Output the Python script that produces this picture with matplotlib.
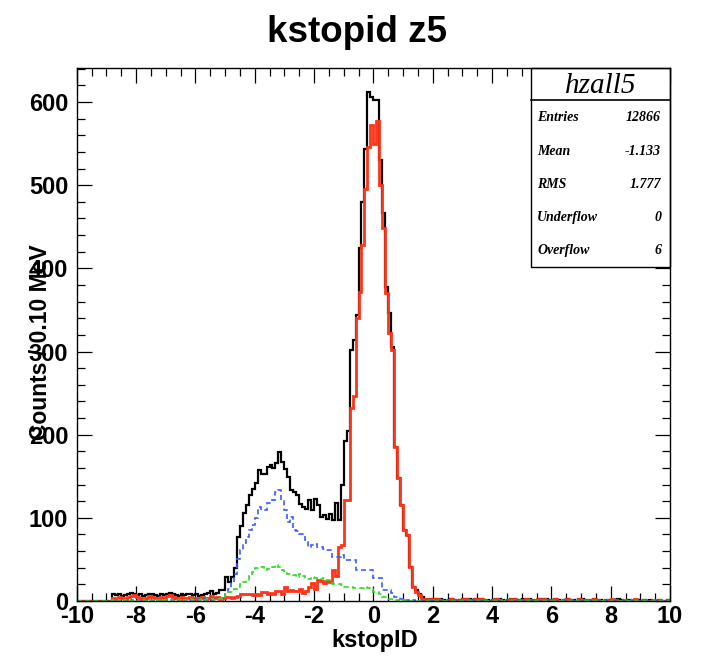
import numpy as np
import matplotlib.pyplot as plt
from matplotlib.patches import Rectangle

plt.rcParams['font.family'] = ['Liberation Sans', 'DejaVu Sans']
plt.rcParams['font.weight'] = 'bold'
plt.rcParams['axes.unicode_minus'] = False

# histogram binning: 200 bins of 0.10 between -10 and 10
x_min, x_max, n_bins = -10.0, 10.0, 200

# counts per bin
# left tail, bins 12..47 (x = -8.8 .. -5.2)
black_left = [8, 7, 9, 6, 7, 8, 10, 9, 7, 8, 6, 7, 9, 8, 7, 6, 8, 7, 9, 10,
              8, 7, 6, 8, 7, 9, 8, 7, 8, 6, 7, 9, 10, 12, 9, 10]
red_left = [4, 3, 5, 4, 3, 5, 6, 7, 5, 4, 3, 4, 6, 5, 4, 3, 5, 4, 6, 7,
            5, 4, 3, 5, 4, 4, 5, 4, 3, 4, 5, 3, 4, 6, 4, 5]
blue_left = [0, 1, 0, 1, 1, 0, 1, 0, 1, 1, 0, 1, 1, 0, 1, 0, 1, 1, 0, 1,
             1, 0, 1, 2, 1, 0, 1, 1, 2, 1, 1, 2, 1, 1, 2, 2]
green_left = [1, 0, 1, 0, 1, 1, 0, 1, 0, 1, 1, 0, 1, 1, 0, 1, 0, 1, 1, 1,
              0, 1, 1, 0, 1, 1, 2, 1, 1, 1, 2, 1, 2, 2, 1, 2]

# main region, bins 48..116 (x = -5.2 .. 1.7)
black_main = [13, 13, 29, 23, 29, 40, 77, 90, 106, 115,
              127, 135, 142, 157, 153, 153, 161, 163, 160, 166,
              179, 167, 159, 149, 133, 131, 127, 117, 113, 111,
              121, 109, 123, 115, 101, 103, 99, 105, 97, 118,
              97, 139, 193, 205, 302, 314, 344, 424, 480, 544,
              612, 606, 603, 603, 530, 466, 378, 346, 305, 185,
              148, 115, 85, 79, 41, 17, 13, 9, 5]
red_main = [3, 4, 5, 5, 4, 5, 6, 9, 9, 8,
            9, 7, 8, 7, 11, 11, 9, 10, 9, 12,
            12, 9, 17, 12, 13, 12, 12, 15, 10, 12,
            17, 22, 15, 25, 24, 22, 24, 23, 37, 30,
            65, 67, 121, 121, 232, 246, 340, 372, 428, 496,
            546, 572, 550, 577, 500, 448, 370, 322, 302, 185,
            148, 115, 85, 79, 41, 17, 11, 7, 3]
blue_main = [2, 4, 8, 15, 22, 33, 50, 61, 70, 77,
             85, 92, 100, 113, 110, 110, 118, 118, 121, 131,
             133, 121, 109, 95, 101, 85, 84, 80, 80, 73,
             65, 67, 69, 65, 65, 63, 61, 61, 53, 53,
             53, 55, 49, 49, 49, 49, 37, 37, 37, 37,
             37, 37, 28, 28, 28, 13, 13, 13, 10, 5,
             5, 2, 1, 1, 0, 1, 0, 0, 0]
green_main = [3, 5, 8, 11, 11, 15, 17, 21, 23, 25,
              30, 35, 40, 41, 41, 37, 38, 40, 41, 43,
              41, 37, 35, 33, 33, 31, 29, 33, 30, 27,
              26, 29, 28, 27, 27, 28, 25, 25, 21, 21,
              21, 19, 17, 17, 17, 16, 16, 16, 16, 17,
              16, 14, 11, 11, 9, 5, 5, 3, 2, 1,
              1, 0, 1, 0, 0, 0, 0, 0, 0]

# right tail, bins 117..199
black_right = [3, 1, 3, 2, 3, 2, 1, 0, 1, 2, 1, 0, 1, 2, 3, 2, 1, 2, 3, 2,
               1, 1, 0, 1, 2, 2, 1, 0, 1, 2, 2, 1, 1, 2, 1, 2, 1, 0, 1, 2,
               3, 2, 1, 1, 2, 1, 0, 1, 2, 1, 1, 0, 2, 2, 1, 0, 1, 2, 1, 1,
               0, 1, 1, 0, 1, 2, 1, 0, 0, 1, 0, 1, 1, 0, 1, 0, 1, 0, 0, 1,
               0, 0, 1]
red_right = [2, 1, 3, 2, 3, 1, 0, 0, 1, 2, 1, 0, 1, 2, 3, 1, 0, 2, 3, 2,
             1, 0, 0, 1, 2, 1, 0, 0, 1, 2, 2, 0, 1, 0, 2, 1, 0, 1, 2, 1,
             3, 1, 0, 1, 2, 0, 0, 1, 2, 1, 0, 0, 2, 1, 0, 1, 1, 2, 1, 0,
             0, 1, 0, 2, 1, 0, 0, 1, 0, 0, 1, 2, 0, 0, 1, 0, 0, 1, 0, 1,
             0, 0, 1]

stats_labels = ['Entries', 'Mean', 'RMS', 'Underflow', 'Overflow']
stats_values = ['12866', '-1.133', '1.777', '0', '6']


def build(left=None, main=None, right=None):
    h = np.zeros(n_bins)
    if left is not None:
        h[12:12 + len(left)] = left
    if main is not None:
        h[48:48 + len(main)] = main
    if right is not None:
        h[117:117 + len(right)] = right
    return h


edges = np.linspace(x_min, x_max, n_bins + 1)
black = build(black_left, black_main, black_right)
red = build(red_left, red_main, red_right)
blue = build(blue_left, blue_main)
green = build(green_left, green_main)

fig = plt.figure(figsize=(7.03, 6.58), dpi=100)
ax = fig.add_axes([0.1091, 0.0866, 0.8440, 0.8101])

ax.stairs(black, edges, color='black', lw=1.6, zorder=2)
ax.stairs(red, edges, color='#ff3318', lw=2.0, zorder=2.05)
ax.stairs(blue, edges, color='#3a5cff', lw=1.2, ls=(0, (3, 2)), zorder=2.1)
ax.stairs(green, edges, color='#2fd82a', lw=1.2, ls=(0, (3, 2)), zorder=2.1)

ax.set_xlim(x_min, x_max)
ax.set_ylim(0, 641)
ax.set_xticks(np.arange(-10, 11, 2))
ax.set_xticks(np.arange(-10, 10.01, 0.5), minor=True)
ax.set_yticks(np.arange(0, 601, 100))
ax.set_yticks(np.arange(0, 641, 20), minor=True)
ax.tick_params(which='both', direction='in', top=True, right=True, width=0.9)
ax.tick_params(which='major', length=11)
ax.tick_params(which='minor', length=5.5)
ax.tick_params(axis='x', labelsize=17, pad=3)
ax.tick_params(axis='y', labelsize=17, pad=6)
for s in ax.spines.values():
    s.set_linewidth(1.0)

fig.text(357 / 703, 1 - 32 / 658, 'kstopid z5', ha='center', va='center',
         fontsize=26.5, fontweight='bold')
fig.text(375 / 703, 1 - 640 / 658, 'kstopID', ha='center', va='center',
         fontsize=17, fontweight='bold')
# ROOT puts the y title right on top of the tick labels, as in the original
fig.text(41 / 703, 1 - 342 / 658, 'Counts / 0.10 MeV', ha='center', va='center',
         rotation=90, fontsize=16.5, fontweight='bold')

# stats box
box_l, box_b = 0.7657, 0.6266
ax.add_patch(Rectangle((box_l, box_b), 1.0 - box_l, 1 - box_b,
                       transform=ax.transAxes, facecolor='white',
                       edgecolor='black', lw=1.0, zorder=2.2, clip_on=False))
ax.plot([box_l, 1.0], [0.94, 0.94], transform=ax.transAxes, color='black',
        lw=1.2, zorder=2.3, clip_on=False)
ax.text((box_l + 1.0) / 2, 0.967, 'hzall5', transform=ax.transAxes,
        ha='center', va='center', fontsize=21, fontstyle='italic',
        fontweight='normal', family='Liberation Serif', zorder=2.3)
row_y = [0.908, 0.844, 0.782, 0.720, 0.657]
for lab, val, yy in zip(stats_labels, stats_values, row_y):
    ax.text(0.776, yy, lab, transform=ax.transAxes, ha='left', va='center',
            fontsize=10, fontstyle='italic', fontweight='bold',
            family='Liberation Serif', zorder=2.3)
    ax.text(0.985, yy, val, transform=ax.transAxes, ha='right', va='center',
            fontsize=10, fontstyle='italic', fontweight='bold',
            family='Liberation Serif', zorder=2.3)

fig.savefig('out.png', dpi=100)
